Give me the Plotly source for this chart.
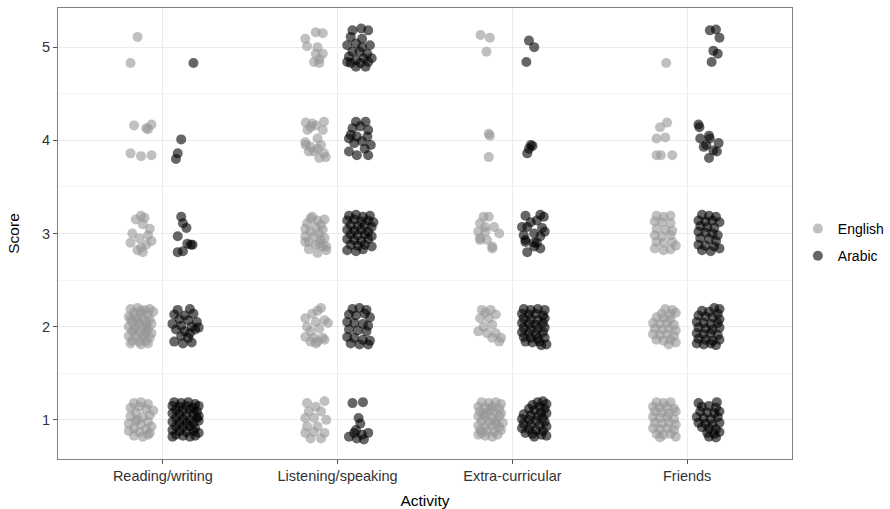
import plotly.graph_objects as go

# Activities on the x axis, in display order
activities = ["Reading/writing", "Listening/speaking", "Extra-curricular", "Friends"]
languages = ["English", "Arabic"]
score_ticks = [1, 2, 3, 4, 5]

# Each response: (horizontal jitter, jittered score)
reading_english = [
    (-0.02, 5.11), (-0.06, 4.83),
    (-0.04, 4.16), (0.03, 4.13), (0.06, 4.17), (0.04, 4.12), (-0.06, 3.86), (0.0, 3.83), (0.06, 3.84),
    (0.0, 3.19), (0.02, 3.17), (-0.03, 3.15), (0.01, 3.1), (0.05, 3.05), (-0.05, 3.0), (0.04, 2.98),
    (-0.01, 2.95), (0.06, 2.92), (-0.06, 2.9), (0.03, 2.88), (0.0, 2.85), (-0.02, 2.82), (0.01, 2.8),
    (-0.06, 2.19), (-0.02, 2.2), (0.02, 2.18), (0.05, 2.19), (-0.04, 2.15), (0.0, 2.14), (0.04, 2.13),
    (0.07, 2.16), (-0.07, 2.11), (-0.03, 2.1), (0.01, 2.09), (0.05, 2.08), (-0.05, 2.05), (-0.01, 2.04),
    (0.03, 2.05), (0.06, 2.03), (-0.07, 2.0), (-0.03, 1.99), (0.01, 2.0), (0.04, 1.98), (-0.05, 1.95),
    (-0.01, 1.94), (0.03, 1.95), (0.06, 1.93), (-0.07, 1.9), (-0.03, 1.89), (0.01, 1.9), (0.05, 1.88),
    (-0.05, 1.85), (-0.01, 1.84), (0.03, 1.85), (-0.06, 1.82), (0.0, 1.81), (0.04, 1.82), (-0.02, 2.07),
    (0.03, 2.01), (-0.04, 1.97), (0.02, 1.92), (-0.06, 2.08), (0.0, 2.17),
    (-0.04, 1.18), (0.0, 1.19), (0.04, 1.17), (-0.06, 1.13), (-0.01, 1.14), (0.03, 1.12), (0.07, 1.1),
    (-0.03, 1.08), (0.05, 1.05), (-0.06, 1.04), (0.01, 1.03), (-0.03, 0.99), (0.04, 0.98), (-0.07, 0.96),
    (0.0, 0.95), (0.06, 0.93), (-0.04, 0.91), (0.03, 0.9), (-0.07, 0.88), (-0.01, 0.87), (0.05, 0.86),
    (-0.04, 0.83), (0.01, 0.82), (0.04, 0.84), (-0.02, 1.0),
]

reading_arabic = [
    (0.05, 4.83),
    (-0.02, 4.01), (-0.04, 3.86), (-0.05, 3.8),
    (-0.02, 3.18), (-0.01, 3.11), (0.01, 3.06), (-0.04, 2.97), (0.015, 2.89), (0.035, 2.88),
    (0.045, 2.88), (-0.04, 2.8), (-0.01, 2.81),
    (-0.04, 2.18), (0.03, 2.19), (-0.06, 2.13), (0.0, 2.12), (0.05, 2.14), (-0.03, 2.08), (0.02, 2.07),
    (0.07, 2.05), (-0.07, 2.03), (-0.02, 2.01), (0.04, 2.0), (0.08, 1.99), (-0.05, 1.97), (0.0, 1.95),
    (0.03, 1.93), (-0.02, 1.9), (0.02, 1.88), (-0.06, 1.84), (-0.01, 1.82), (0.04, 1.83), (0.06, 1.97),
    (-0.06, 1.19), (-0.02, 1.18), (0.02, 1.19), (0.06, 1.17), (-0.07, 1.15), (-0.03, 1.14), (0.01, 1.15),
    (0.05, 1.13), (0.08, 1.15), (-0.05, 1.11), (-0.01, 1.1), (0.03, 1.11), (0.07, 1.09), (-0.07, 1.07),
    (-0.03, 1.06), (0.01, 1.05), (0.05, 1.07), (0.08, 1.04), (-0.05, 1.02), (-0.01, 1.01), (0.03, 1.0),
    (0.07, 1.02), (-0.07, 0.98), (-0.03, 0.97), (0.01, 0.96), (0.05, 0.97), (0.08, 0.99), (-0.05, 0.93),
    (-0.01, 0.92), (0.03, 0.93), (0.06, 0.91), (-0.07, 0.89), (-0.03, 0.88), (0.01, 0.87), (0.05, 0.88),
    (0.08, 0.86), (-0.05, 0.84), (-0.01, 0.83), (0.03, 0.82), (0.06, 0.83), (-0.07, 0.82),
]

listening_english = [
    (0.0, 5.16), (0.04, 5.15), (-0.06, 5.09), (-0.05, 5.01), (0.01, 5.0), (0.0, 4.93), (0.04, 4.93),
    (0.02, 4.87), (0.02, 4.83), (-0.01, 4.84),
    (-0.057, 4.19), (-0.02, 4.18), (0.047, 4.2), (-0.047, 4.11), (0.04, 4.11), (0.01, 4.02), (-0.057, 3.95),
    (-0.03, 3.93), (0.03, 3.95), (-0.01, 3.88), (0.047, 3.86), (0.057, 3.82), (0.02, 3.81), (0.01, 3.91),
    (-0.04, 3.88), (-0.03, 4.14), (0.0, 4.16), (-0.06, 3.98),
    (-0.02, 3.18), (0.01, 3.14), (-0.05, 3.11), (0.03, 3.09), (0.04, 3.04), (-0.06, 2.97), (-0.01, 2.97),
    (0.05, 2.95), (-0.04, 2.91), (0.02, 2.89), (0.06, 2.86), (-0.06, 2.91), (0.0, 2.88), (0.04, 2.86),
    (0.01, 2.79), (0.06, 2.82), (-0.03, 3.16), (0.05, 3.15), (-0.06, 3.05), (0.0, 3.07), (-0.03, 3.02),
    (0.02, 3.0), (-0.04, 2.83), (0.03, 2.93),
    (0.03, 2.2), (-0.02, 2.14), (-0.06, 2.09), (0.05, 2.07), (0.0, 2.05), (0.07, 2.04), (-0.05, 2.0),
    (0.02, 1.98), (-0.06, 1.89), (-0.01, 1.88), (0.04, 1.88), (-0.03, 1.84), (0.01, 1.84), (0.05, 1.86),
    (0.0, 1.82), (0.01, 2.17), (-0.03, 1.95),
    (-0.05, 1.18), (0.05, 1.2), (0.0, 1.14), (-0.04, 1.09), (0.03, 1.09), (-0.06, 1.02), (-0.01, 1.02),
    (0.06, 1.0), (-0.05, 0.93), (0.01, 0.93), (-0.06, 0.86), (-0.01, 0.87), (0.05, 0.86), (-0.03, 0.8),
    (0.03, 0.8),
]

listening_arabic = [
    (-0.04, 5.18), (0.01, 5.2), (0.05, 5.18), (-0.05, 5.11), (0.015, 5.09), (-0.07, 5.02), (-0.02, 5.04),
    (0.06, 5.02), (0.015, 5.0), (-0.04, 4.95), (0.0, 4.95), (0.045, 4.93), (-0.06, 4.9), (0.07, 4.88),
    (-0.02, 4.86), (0.025, 4.88), (-0.05, 4.83), (0.005, 4.83), (0.05, 4.84), (-0.02, 4.79), (-0.07, 4.84),
    (0.035, 4.79),
    (-0.02, 4.2), (0.035, 4.2), (-0.04, 4.13), (0.005, 4.15), (0.05, 4.11), (-0.06, 4.02), (-0.015, 4.04),
    (0.045, 4.04), (-0.03, 3.97), (0.015, 3.99), (0.065, 3.95), (-0.015, 3.84), (0.05, 3.84), (-0.05, 4.06),
    (0.03, 3.91), (-0.06, 3.88),
    (-0.06, 3.19), (-0.02, 3.2), (0.02, 3.18), (0.06, 3.19), (-0.07, 3.14), (-0.03, 3.15), (0.01, 3.13),
    (0.05, 3.14), (0.08, 3.12), (-0.05, 3.09), (-0.01, 3.08), (0.03, 3.09), (0.07, 3.07), (-0.07, 3.04),
    (-0.03, 3.03), (0.01, 3.04), (0.05, 3.02), (-0.05, 2.99), (-0.01, 2.98), (0.03, 2.99), (0.07, 2.97),
    (-0.07, 2.94), (-0.03, 2.93), (0.01, 2.92), (0.05, 2.94), (-0.05, 2.88), (-0.01, 2.87), (0.03, 2.88),
    (0.07, 2.86), (-0.07, 2.82), (-0.02, 2.81), (0.02, 2.83),
    (-0.04, 2.19), (0.0, 2.2), (0.04, 2.18), (-0.06, 2.13), (-0.02, 2.12), (0.03, 2.14), (0.06, 2.1),
    (-0.07, 2.05), (-0.03, 2.04), (0.02, 2.03), (0.05, 2.01), (-0.06, 1.97), (-0.01, 1.96), (0.04, 1.95),
    (-0.07, 1.89), (-0.03, 1.88), (0.02, 1.86), (0.06, 1.85), (-0.05, 1.82), (0.0, 1.81), (0.05, 1.81),
    (-0.04, 1.18), (0.02, 1.19), (-0.005, 1.02), (0.005, 0.96), (-0.02, 0.89), (-0.06, 0.82), (-0.03, 0.86),
    (0.015, 0.84), (0.05, 0.86), (0.025, 0.79), (-0.015, 0.8),
]

extra_english = [
    (-0.057, 5.13), (-0.004, 5.1), (-0.023, 4.95),
    (-0.01, 4.07), (-0.004, 4.05), (-0.01, 3.82),
    (-0.04, 3.18), (-0.01, 3.18), (-0.06, 3.11), (-0.03, 3.07), (0.02, 3.07), (-0.07, 3.02), (-0.03, 3.02),
    (0.05, 3.0), (-0.06, 2.95), (-0.02, 2.93), (0.01, 2.86), (-0.06, 2.93), (0.01, 2.84),
    (-0.05, 2.18), (0.0, 2.18), (-0.06, 2.09), (-0.01, 2.09), (0.03, 2.13), (-0.04, 2.0), (0.01, 2.02),
    (-0.07, 1.95), (-0.02, 1.93), (0.03, 1.93), (0.01, 1.88), (0.06, 1.88), (0.05, 1.84), (-0.03, 2.15),
    (-0.05, 1.19), (-0.01, 1.18), (0.03, 1.19), (0.06, 1.17), (-0.07, 1.14), (-0.03, 1.13), (0.01, 1.14),
    (0.05, 1.12), (-0.06, 1.09), (-0.02, 1.08), (0.02, 1.09), (0.06, 1.07), (-0.07, 1.04), (-0.03, 1.03),
    (0.01, 1.02), (0.05, 1.04), (-0.05, 0.99), (-0.01, 0.98), (0.03, 0.99), (0.07, 0.97), (-0.07, 0.94),
    (-0.03, 0.93), (0.01, 0.94), (0.05, 0.92), (-0.06, 0.89), (-0.02, 0.88), (0.02, 0.87), (0.06, 0.89),
    (-0.07, 0.84), (-0.03, 0.83), (0.01, 0.82), (0.04, 0.84), (-0.04, 1.06), (0.03, 0.96), (-0.05, 0.86),
    (0.0, 1.11),
]

extra_arabic = [
    (-0.03, 5.07), (0.0, 5.0), (-0.045, 4.84),
    (-0.02, 3.95), (-0.03, 3.91), (-0.04, 3.86), (-0.01, 3.94),
    (-0.05, 3.19), (0.035, 3.2), (0.055, 3.18), (0.015, 3.14), (-0.07, 3.07), (-0.04, 3.07), (0.045, 3.06),
    (0.0, 3.0), (0.035, 2.97), (-0.05, 2.93), (0.0, 2.9), (-0.05, 2.91), (0.015, 2.9), (-0.04, 2.8),
    (0.035, 2.84), (0.0, 2.86), (-0.02, 3.12), (0.06, 3.02), (-0.06, 2.98),
    (-0.06, 2.19), (-0.02, 2.18), (0.02, 2.19), (0.06, 2.18), (-0.07, 2.14), (-0.03, 2.13), (0.01, 2.14),
    (0.05, 2.12), (-0.06, 2.09), (-0.02, 2.08), (0.02, 2.07), (0.06, 2.09), (-0.07, 2.04), (-0.03, 2.03),
    (0.01, 2.02), (0.05, 2.04), (-0.06, 1.99), (-0.02, 1.98), (0.02, 1.97), (0.06, 1.99), (-0.07, 1.94),
    (-0.03, 1.93), (0.01, 1.92), (0.05, 1.94), (-0.06, 1.89), (-0.02, 1.88), (0.02, 1.87), (0.06, 1.88),
    (-0.05, 1.84), (-0.01, 1.83), (0.03, 1.84), (0.07, 1.81), (0.04, 1.8),
    (0.02, 1.19), (0.05, 1.2), (0.07, 1.17), (-0.01, 1.16), (0.03, 1.14), (0.06, 1.12), (-0.03, 1.12),
    (0.0, 1.1), (0.04, 1.08), (0.07, 1.07), (-0.06, 1.06), (-0.02, 1.05), (0.02, 1.04), (0.05, 1.02),
    (-0.07, 1.01), (-0.03, 1.0), (0.01, 0.99), (0.06, 0.98), (-0.06, 0.96), (-0.02, 0.95), (0.03, 0.94),
    (0.07, 0.93), (-0.07, 0.91), (-0.03, 0.9), (0.01, 0.89), (0.05, 0.88), (-0.05, 0.86), (-0.01, 0.85),
    (0.04, 0.84), (0.07, 0.83), (0.0, 0.82),
]

friends_english = [
    (0.005, 4.83),
    (0.01, 4.19), (-0.03, 4.14), (-0.05, 4.02), (0.0, 4.03), (-0.05, 3.84), (-0.025, 3.84), (0.04, 3.84),
    (-0.05, 3.19), (-0.01, 3.18), (0.03, 3.19), (-0.06, 3.13), (-0.02, 3.12), (0.03, 3.11), (-0.05, 3.05),
    (0.0, 3.04), (0.04, 3.03), (-0.06, 2.98), (-0.02, 2.97), (0.03, 2.98), (-0.05, 2.91), (-0.01, 2.9),
    (0.04, 2.91), (-0.06, 2.84), (-0.01, 2.82), (0.03, 2.83), (0.06, 2.87),
    (0.0, 2.19), (0.04, 2.18), (-0.02, 2.14), (0.03, 2.13), (0.06, 2.15), (-0.05, 2.1), (-0.01, 2.09),
    (0.03, 2.08), (-0.07, 2.04), (-0.03, 2.03), (0.01, 2.04), (0.05, 2.02), (-0.06, 1.98), (-0.02, 1.97),
    (0.02, 1.98), (0.06, 1.96), (-0.07, 1.92), (-0.03, 1.91), (0.01, 1.92), (0.05, 1.9), (-0.05, 1.86),
    (-0.01, 1.85), (0.03, 1.86), (0.06, 1.83), (0.02, 1.81),
    (-0.05, 1.19), (-0.01, 1.18), (0.03, 1.19), (-0.07, 1.14), (-0.03, 1.13), (0.01, 1.14), (0.05, 1.12),
    (-0.06, 1.09), (-0.02, 1.08), (0.02, 1.07), (0.06, 1.09), (-0.07, 1.03), (-0.03, 1.02), (0.01, 1.03),
    (0.05, 1.01), (-0.06, 0.97), (-0.02, 0.96), (0.02, 0.97), (0.06, 0.95), (-0.07, 0.91), (-0.03, 0.9),
    (0.01, 0.91), (0.05, 0.89), (-0.05, 0.85), (-0.01, 0.84), (0.03, 0.85), (0.06, 0.82), (-0.03, 0.81),
]

friends_arabic = [
    (0.005, 5.18), (0.04, 5.19), (0.06, 5.1), (0.025, 4.96), (0.05, 4.93), (0.015, 4.84),
    (-0.06, 4.17), (-0.055, 4.14), (-0.05, 4.02), (0.0, 4.05), (0.005, 4.02), (-0.03, 3.93), (0.055, 3.97),
    (0.025, 3.89), (0.045, 3.88), (0.0, 3.81), (-0.015, 3.95),
    (-0.04, 3.2), (0.0, 3.19), (0.04, 3.18), (-0.06, 3.14), (-0.02, 3.13), (0.02, 3.14), (0.06, 3.12),
    (-0.05, 3.08), (-0.01, 3.07), (0.03, 3.06), (-0.06, 3.02), (-0.02, 3.01), (0.02, 3.0), (0.05, 2.98),
    (-0.05, 2.95), (0.0, 2.94), (0.04, 2.92), (-0.06, 2.88), (-0.02, 2.87), (0.03, 2.86), (0.06, 2.84),
    (-0.04, 2.82), (0.01, 2.81),
    (0.03, 2.2), (0.06, 2.19), (-0.04, 2.17), (0.0, 2.16), (0.05, 2.14), (-0.06, 2.12), (-0.02, 2.11),
    (0.02, 2.1), (0.06, 2.08), (-0.07, 2.05), (-0.03, 2.04), (0.01, 2.03), (0.05, 2.04), (-0.06, 1.99),
    (-0.02, 1.98), (0.02, 1.97), (0.06, 1.99), (-0.07, 1.93), (-0.03, 1.92), (0.01, 1.93), (0.05, 1.91),
    (-0.06, 1.87), (-0.02, 1.86), (0.02, 1.85), (0.06, 1.86), (-0.07, 1.82), (-0.03, 1.81), (0.01, 1.82),
    (0.04, 1.8),
    (-0.06, 1.18), (0.045, 1.19), (-0.04, 1.14), (0.0, 1.15), (0.04, 1.13), (-0.05, 1.09), (-0.01, 1.08),
    (0.03, 1.07), (0.06, 1.09), (-0.07, 1.03), (-0.03, 1.02), (0.01, 1.01), (0.05, 1.03), (-0.06, 0.97),
    (-0.02, 0.96), (0.02, 0.95), (0.06, 0.97), (-0.04, 0.92), (0.0, 0.91), (0.04, 0.9), (-0.01, 0.86),
    (0.03, 0.85), (0.06, 0.87), (0.0, 0.82), (0.04, 0.81),
]

responses = {
    "English": [reading_english, listening_english, extra_english, friends_english],
    "Arabic": [reading_arabic, listening_arabic, extra_arabic, friends_arabic],
}

# Dodge each language to its own side of the activity position
dodge = {"English": -0.125, "Arabic": 0.125}
colors = {"English": "rgba(150,150,150,0.6)", "Arabic": "rgba(0,0,0,0.6)"}

fig = go.Figure()
for lang in languages:
    xs, ys = [], []
    for i, group in enumerate(responses[lang]):
        for jx, score in group:
            xs.append(i + 1 + dodge[lang] + jx)
            ys.append(score)
    fig.add_trace(go.Scatter(
        x=xs, y=ys, mode="markers", name=lang, legendgroup=lang,
        marker=dict(size=10, color=colors[lang], line=dict(width=0)),
        hoverinfo="skip",
    ))

font_family = "Liberation Sans, Arial, sans-serif"
tick_color = "#333333"
fig.update_layout(
    width=890, height=509,
    margin=dict(l=58, r=98, t=8, b=50, autoexpand=False),
    paper_bgcolor="white", plot_bgcolor="white",
    font=dict(family=font_family, color="black", size=14),
    showlegend=True,
    legend=dict(
        x=1.008, xanchor="left", y=0.48, yanchor="middle",
        font=dict(size=14, color="black"),
        bgcolor="rgba(0,0,0,0)", itemsizing="trace",
        traceorder="grouped", tracegroupgap=6,
    ),
    xaxis=dict(
        range=[0.4, 4.6], automargin=False,
        tickmode="array", tickvals=[1, 2, 3, 4], ticktext=activities,
        showgrid=True, gridcolor="#ebebeb", gridwidth=1,
        zeroline=False,
        showline=True, mirror=True, linecolor="#808080", linewidth=1,
        ticks="outside", ticklen=4, tickcolor="#555555", tickwidth=1,
        tickfont=dict(size=14.5, color=tick_color),
        title=dict(text="Activity", font=dict(size=15.5, color="black"), standoff=11),
    ),
    yaxis=dict(
        range=[0.58, 5.42], automargin=False,
        tickmode="array", tickvals=score_ticks, ticktext=[str(v) for v in score_ticks],
        showgrid=True, gridcolor="#ebebeb", gridwidth=1,
        minor=dict(tickvals=[1.5, 2.5, 3.5, 4.5], showgrid=True, gridcolor="#f4f4f4",
                   gridwidth=0.6, ticks=""),
        zeroline=False,
        showline=True, mirror=True, linecolor="#808080", linewidth=1,
        ticks="outside", ticklen=4, tickcolor="#555555", tickwidth=1,
        tickfont=dict(size=14.5, color=tick_color),
        title=dict(text="Score", font=dict(size=15.5, color="black"), standoff=18),
    ),
)

fig.write_html("out.html")
